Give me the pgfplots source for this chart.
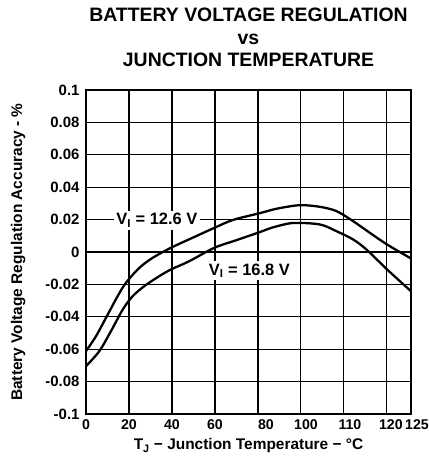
\documentclass[border=0pt]{standalone}
\usepackage{fontspec}
\setmainfont{Liberation Sans}
\usepackage{pgfplots}
\pgfplotsset{compat=1.18}
\begin{document}
\begin{tikzpicture}
\path[use as bounding box] (-86bp,-54bp) rectangle (343bp,414bp);
\begin{axis}[
  scale only axis,
  width=325bp, height=324bp,
  at={(0,0)}, anchor=south west,
  xmin=0, xmax=151.2,
  ymin=-0.1, ymax=0.1,
  xtick={0,20,40,60,80,100,120,140,151.2},
  xticklabels={0,20,40,60,\hspace*{16bp}80,\hspace*{10bp}100,\hspace*{12bp}110,\hspace*{8bp}120,\hspace*{12bp}125},
  ytick={-0.1,-0.08,-0.06,-0.04,-0.02,0,0.02,0.04,0.06,0.08,0.1},
  yticklabels={-0.1,-0.08,-0.06,-0.04,-0.02,0,0.02,0.04,0.06,0.08,0.1},
  major tick length=0pt,
  grid=major,
  major grid style={black, line width=1.1pt},
  axis line style={black, line width=2.2pt},
  yticklabel style={font=\fontsize{15}{17}\selectfont\bfseries, xshift=-3bp},
  xticklabel style={font=\fontsize{14.2}{17}\selectfont\bfseries, yshift=-2bp},
  title={BATTERY VOLTAGE REGULATION\\vs\\JUNCTION TEMPERATURE},
  title style={font=\fontsize{19.5}{22.5}\selectfont\bfseries, align=center,
    at={(axis description cs:0.5,1)}, anchor=south, inner sep=0pt, yshift=17bp},
  xlabel={T\textsubscript{J} − Junction Temperature − °C},
  ylabel={Battery Voltage Regulation Accuracy - \%},
  every axis x label/.style={at={(axis description cs:0.5,-0.111)}, anchor=base,
    font=\fontsize{15.5}{18}\selectfont\bfseries},
  every axis y label/.style={at={(axis description cs:-0.209,0.5)}, rotate=90, anchor=center,
    font=\fontsize{15.5}{18}\selectfont\bfseries},
]
\addplot[black, line width=2.3pt, smooth, tension=0.5] coordinates {
(0,-0.0612) (4.65,-0.052) (9.3,-0.0406) (14.7,-0.0273) (18.6,-0.019) (24.8,-0.0098)
(31,-0.0036) (39.5,0.0026) (49.6,0.0088) (59.7,0.0149) (68.4,0.0198) (80.9,0.024)
(89,0.0268) (99.5,0.0289) (108.8,0.0279) (116.6,0.0252) (124.3,0.019) (132.1,0.0118)
(140.1,0.0046) (151.2,-0.0040)
};
\addplot[black, line width=2.3pt, smooth, tension=0.5] coordinates {
(0,-0.0705) (6.2,-0.0612) (11.6,-0.0489) (17.1,-0.0355) (21.7,-0.0273) (27.1,-0.0211)
(34.1,-0.0149) (39.5,-0.0108) (48,-0.0057) (59.7,0.0026) (70.2,0.0074) (80.9,0.0123)
(87,0.0152) (96.3,0.0179) (108.8,0.017) (116.6,0.0128) (124.3,0.0077) (130.5,0.0015)
(140.1,-0.0108) (151.2,-0.0242)
};
\node[fill=white, inner sep=2.5pt, font=\fontsize{16.5}{18}\selectfont\bfseries]
  at (axis cs:33,0.0195) {V\textsubscript{I} = 12.6 V};
\node[fill=white, inner sep=2.5pt, font=\fontsize{16.5}{18}\selectfont\bfseries]
  at (axis cs:76,-0.0115) {V\textsubscript{I} = 16.8 V};
\end{axis}
\end{tikzpicture}
\end{document}
